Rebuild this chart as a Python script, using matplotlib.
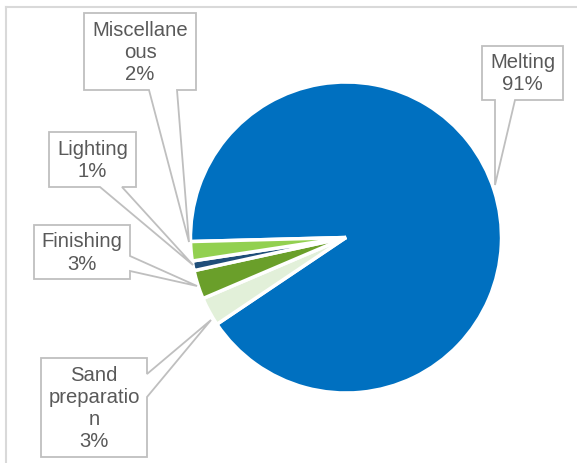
import matplotlib
matplotlib.use('Agg')
from matplotlib import pyplot as plt
from matplotlib.patches import Polygon
import numpy as np

# data
labels = ['Melting', 'Sand\npreparatio\nn', 'Finishing', 'Lighting', 'Miscellane\nous']
values = [91, 3, 3, 1, 2]
colors = ['#0070C0', '#E2F0D9', '#6A9F2A', '#1F4E79', '#92D050']

W, H = 577, 464
fig = plt.figure(figsize=(W / 100, H / 100), dpi=100)
ax = fig.add_axes([0, 0, 1, 1])
ax.set_xlim(0, W)
ax.set_ylim(0, H)
ax.set_aspect('equal')
ax.axis('off')

def py(y):
    # pixel y (top-down) -> data y
    return H - y

# pie
ax.pie(values, colors=colors, startangle=181.5, counterclock=False,
       center=(346, py(238.5)), radius=155.5,
       wedgeprops=dict(edgecolor='white', linewidth=2.5))
ax.set_xlim(0, W)
ax.set_ylim(0, H)

# chart frame (top and left edges visible)
ax.plot([6, W], [py(8), py(8)], color='#D9D9D9', lw=1.5)
ax.plot([6, 6], [py(8), 0], color='#D9D9D9', lw=1.5)

# callout boxes: (x0, y0, x1, y1), side, base a, base b, tip
callouts = [
    ((482, 47, 563, 101), 'bottom', 495, 515, (495, 186)),
    ((41, 359, 147, 458), 'right', 375, 398, (211, 321)),
    ((34, 226, 130, 280), 'right', 257, 272, (197, 287)),
    ((49, 133, 136, 188), 'bottom', 100, 122, (193, 266)),
    ((84, 14, 196, 91), 'bottom', 149, 177, (189, 243)),
]

def callout_poly(box, side, a, b, tip):
    x0, y0, x1, y1 = box
    if side == 'bottom':
        pts = [(x0, y0), (x1, y0), (x1, y1), (b, y1), tip, (a, y1), (x0, y1)]
    else:
        pts = [(x0, y0), (x1, y0), (x1, a), tip, (x1, b), (x1, y1), (x0, y1)]
    return [(x, py(y)) for x, y in pts]

for lab, val, (box, side, a, b, tip) in zip(labels, values, callouts):
    poly = Polygon(callout_poly(box, side, a, b, tip), closed=True,
                   facecolor='white', edgecolor='#BFBFBF', lw=1.3, zorder=5)
    ax.add_patch(poly)
    x0, y0, x1, y1 = box
    ax.text((x0 + x1) / 2, py((y0 + y1) / 2), f'{lab}\n{val}%',
            ha='center', va='center', fontsize=14.6, color='#595959',
            family='Liberation Sans', linespacing=1.2, zorder=6)

fig.savefig('out.png', dpi=100)
